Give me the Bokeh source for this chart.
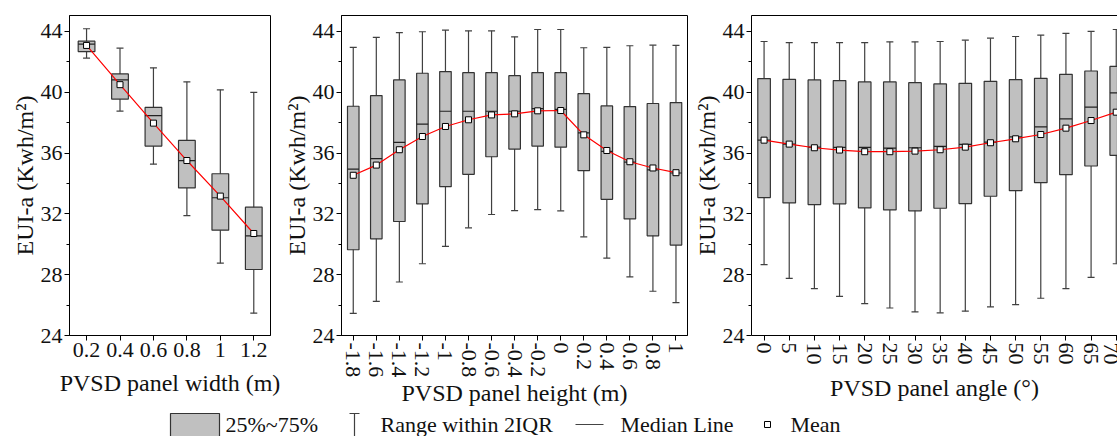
from bokeh.plotting import figure
from bokeh.layouts import row, column
from bokeh.models import (ColumnDataSource, Whisker, TeeHead, Range1d, FixedTicker,
                          LinearAxis)
from bokeh.embed import file_html
from bokeh.resources import INLINE
from bokeh.core.properties import value

# ---------------- data ----------------
width_x = [0.2, 0.4, 0.6, 0.8, 1.0, 1.2]
width_labels = ["0.2", "0.4", "0.6", "0.8", "1", "1.2"]
width_low = [42.25, 38.76, 35.27, 31.89, 28.76, 25.47]
width_q1 = [42.68, 39.55, 36.46, 33.71, 30.93, 28.34]
width_med = [43.17, 40.82, 38.47, 35.51, 33.06, 30.56]
width_q3 = [43.36, 41.21, 39.00, 36.83, 34.64, 32.44]
width_high = [44.18, 42.90, 41.61, 40.69, 40.16, 39.99]
width_mean = [43.08, 40.50, 37.97, 35.51, 33.17, 30.71]

height_x = [-1.8, -1.6, -1.4, -1.2, -1.0, -0.8, -0.6, -0.4, -0.2, 0.0, 0.2, 0.4, 0.6, 0.8, 1.0]
height_labels = ["-1.8", "-1.6", "-1.4", "-1.2", "-1", "-0.8", "-0.6", "-0.4", "-0.2", "0",
                 "0.2", "0.4", "0.6", "0.8", "1"]
height_low = [25.46, 26.25, 27.52, 28.72, 29.86, 31.08, 31.96, 32.22, 32.28, 32.20, 30.49, 29.09, 27.85, 26.91, 26.16]
height_q1 = [29.64, 30.36, 31.50, 32.66, 33.79, 34.60, 35.76, 36.26, 36.46, 36.39, 34.84, 32.96, 31.67, 30.56, 29.95]
height_med = [34.95, 35.63, 36.70, 37.90, 38.75, 38.75, 38.75, 38.75, 38.93, 38.88, 37.33, 36.11, 35.41, 34.89, 34.69]
height_q3 = [39.08, 39.78, 40.81, 41.25, 41.36, 41.29, 41.29, 41.09, 41.29, 41.29, 39.91, 39.10, 39.06, 39.26, 39.32]
height_high = [42.95, 43.61, 43.93, 43.98, 44.09, 44.04, 44.04, 43.65, 44.13, 44.13, 42.93, 42.95, 43.06, 43.10, 43.08]
height_mean = [34.54, 35.21, 36.22, 37.09, 37.75, 38.19, 38.51, 38.58, 38.78, 38.80, 37.20, 36.17, 35.43, 35.02, 34.71]

angle_x = [0, 5, 10, 15, 20, 25, 30, 35, 40, 45, 50, 55, 60, 65, 70]
angle_labels = [str(a) for a in angle_x]
angle_low = [28.66, 27.76, 27.08, 26.58, 26.10, 25.81, 25.55, 25.49, 25.60, 25.88, 26.03, 26.45, 27.08, 27.83, 28.72]
angle_q1 = [33.07, 32.72, 32.61, 32.66, 32.39, 32.26, 32.20, 32.37, 32.68, 33.16, 33.53, 34.05, 34.58, 35.15, 35.85]
angle_med = [36.85, 36.59, 36.39, 36.37, 36.37, 36.33, 36.35, 36.44, 36.57, 36.72, 37.07, 37.73, 38.25, 39.02, 39.96]
angle_q3 = [40.90, 40.85, 40.81, 40.77, 40.68, 40.68, 40.63, 40.55, 40.59, 40.72, 40.83, 40.92, 41.18, 41.40, 41.70]
angle_high = [43.34, 43.26, 43.26, 43.26, 43.26, 43.32, 43.32, 43.34, 43.43, 43.56, 43.67, 43.76, 43.87, 44.00, 44.13]
angle_mean = [36.85, 36.59, 36.35, 36.20, 36.09, 36.09, 36.13, 36.22, 36.39, 36.68, 36.94, 37.22, 37.64, 38.14, 38.69]

y_ticks = [24, 28, 32, 36, 40, 44]
y_minor = [26, 30, 34, 38, 42]
y_label = "EUI-a (Kwh/m²)"
legend_labels = ["25%~75%", "Range within 2IQR", "Median Line", "Mean"]

FONT = "Liberation Serif"
BOX_FILL = "#c0c0c0"
BOX_LINE = "#333333"
WHISK = "#404040"
PANEL_H = 412


def make_panel(xs, labels, low, q1, med, q3, high, mean, box_w, xr, width,
               border_left, border_right, xlabel, vertical, label_standoff,
               outline=True):
    src = ColumnDataSource(dict(
        x=xs, low=low, q1=q1, med=med, q3=q3, high=high, mean=mean,
        x0=[v - box_w / 2 for v in xs], x1=[v + box_w / 2 for v in xs]))
    p = figure(width=width, height=PANEL_H, x_range=Range1d(*xr), y_range=Range1d(24, 45.05),
               output_backend="svg", toolbar_location=None,
               min_border_left=border_left, min_border_right=border_right,
               min_border_top=15, min_border_bottom=PANEL_H - 335)
    p.xgrid.visible = False
    p.ygrid.visible = False
    p.background_fill_color = "white"
    p.border_fill_color = "white"

    whisk = Whisker(base="x", upper="high", lower="low", source=src,
                    line_color=WHISK, line_width=1.2,
                    upper_head=TeeHead(size=7, line_color=WHISK, line_width=1.2),
                    lower_head=TeeHead(size=7, line_color=WHISK, line_width=1.2))
    whisk.level = "underlay"
    p.add_layout(whisk)
    p.vbar(x="x", width=box_w, bottom="q1", top="q3", source=src,
           fill_color=BOX_FILL, line_color=BOX_LINE, line_width=1.2)
    p.segment(x0="x0", x1="x1", y0="med", y1="med", source=src,
              line_color="#222222", line_width=1.2)
    p.line(x="x", y="mean", source=src, line_color="#ff0000", line_width=1.2)
    p.scatter(x="x", y="mean", source=src, marker="square", size=6,
              fill_color="white", line_color="black", line_width=1)

    # axes
    xa = p.below[0]
    ya = p.left[0]
    xa.ticker = FixedTicker(ticks=xs, minor_ticks=[])
    xa.major_label_overrides = {v: l for v, l in zip(xs, labels)}
    xa.axis_label = xlabel
    ya.ticker = FixedTicker(ticks=y_ticks, minor_ticks=y_minor)
    ya.axis_label = y_label
    for ax in (xa, ya):
        ax.axis_line_color = "black"
        ax.major_tick_line_color = "black"
        ax.minor_tick_line_color = "black"
        ax.major_tick_out = 5
        ax.major_tick_in = 0
        ax.minor_tick_out = 3
        ax.minor_tick_in = 0
        ax.major_label_text_font = FONT
        ax.major_label_text_font_size = "22px"
        ax.major_label_text_color = "#111111"
        ax.axis_label_text_font = FONT
        ax.axis_label_text_font_size = "24px"
        ax.axis_label_text_font_style = "normal"
        ax.axis_label_text_color = "#111111"
        ax.major_label_standoff = 2
    ya.axis_label_standoff = 0
    xa.axis_label_standoff = label_standoff
    if vertical:
        xa.major_label_orientation = "vertical"

    if outline:
        p.outline_line_color = "black"
        p.outline_line_width = 1
    else:
        p.outline_line_color = None
        top = LinearAxis(ticker=FixedTicker(ticks=[]), major_tick_out=0, major_tick_in=0,
                         minor_tick_out=0, minor_tick_in=0, major_label_text_font_size="0px",
                         axis_line_color="black")
        p.add_layout(top, "above")
    return p


p1 = make_panel(width_x, width_labels, width_low, width_q1, width_med, width_q3,
                width_high, width_mean, 0.1, (0.098, 1.3), 280, 69, 10,
                "PVSD panel width (m)", False, 10)
p2 = make_panel(height_x, height_labels, height_low, height_q1, height_med, height_q3,
                height_high, height_mean, 0.1, (-1.902, 1.1), 410, 55, 3,
                "PVSD panel height (m)", True, 0)
p3 = make_panel(angle_x, angle_labels, angle_low, angle_q1, angle_med, angle_q3,
                angle_high, angle_mean, 2.5, (-2.5, 70.25), 427, 57, 0,
                "PVSD panel angle (°)", True, 7, outline=False)

# ---------------- legend strip ----------------
leg = figure(width=1117, height=436 - PANEL_H, x_range=Range1d(0, 1117),
             y_range=Range1d(436, PANEL_H),
             output_backend="svg", toolbar_location=None,
             min_border=0, min_border_left=0, min_border_right=0,
             min_border_top=0, min_border_bottom=0)
leg.axis.visible = False
leg.xgrid.visible = False
leg.ygrid.visible = False
leg.outline_line_color = None
leg.quad(left=[170], right=[219], top=[413], bottom=[440],
         fill_color=BOX_FILL, line_color=BOX_LINE, line_width=1.2)
leg.segment(x0=[349, 354], x1=[359, 354], y0=[413, 413], y1=[413, 440],
            line_color=WHISK, line_width=1.2)
leg.segment(x0=[575], x1=[603], y0=[424], y1=[424], line_color="#444444", line_width=1.2)
leg.scatter(x=[767], y=[424], marker="square", size=6, fill_color="white",
            line_color="black", line_width=1)
leg.text(x=[225, 380, 620, 790], y=[424, 424, 424, 424], text=legend_labels,
         text_font=value(FONT), text_font_size="22px", text_color="#111111",
         text_baseline="middle", text_align="left")

layout = column(row(p1, p2, p3), leg)
open("out.html", "w").write(file_html(layout, INLINE))
